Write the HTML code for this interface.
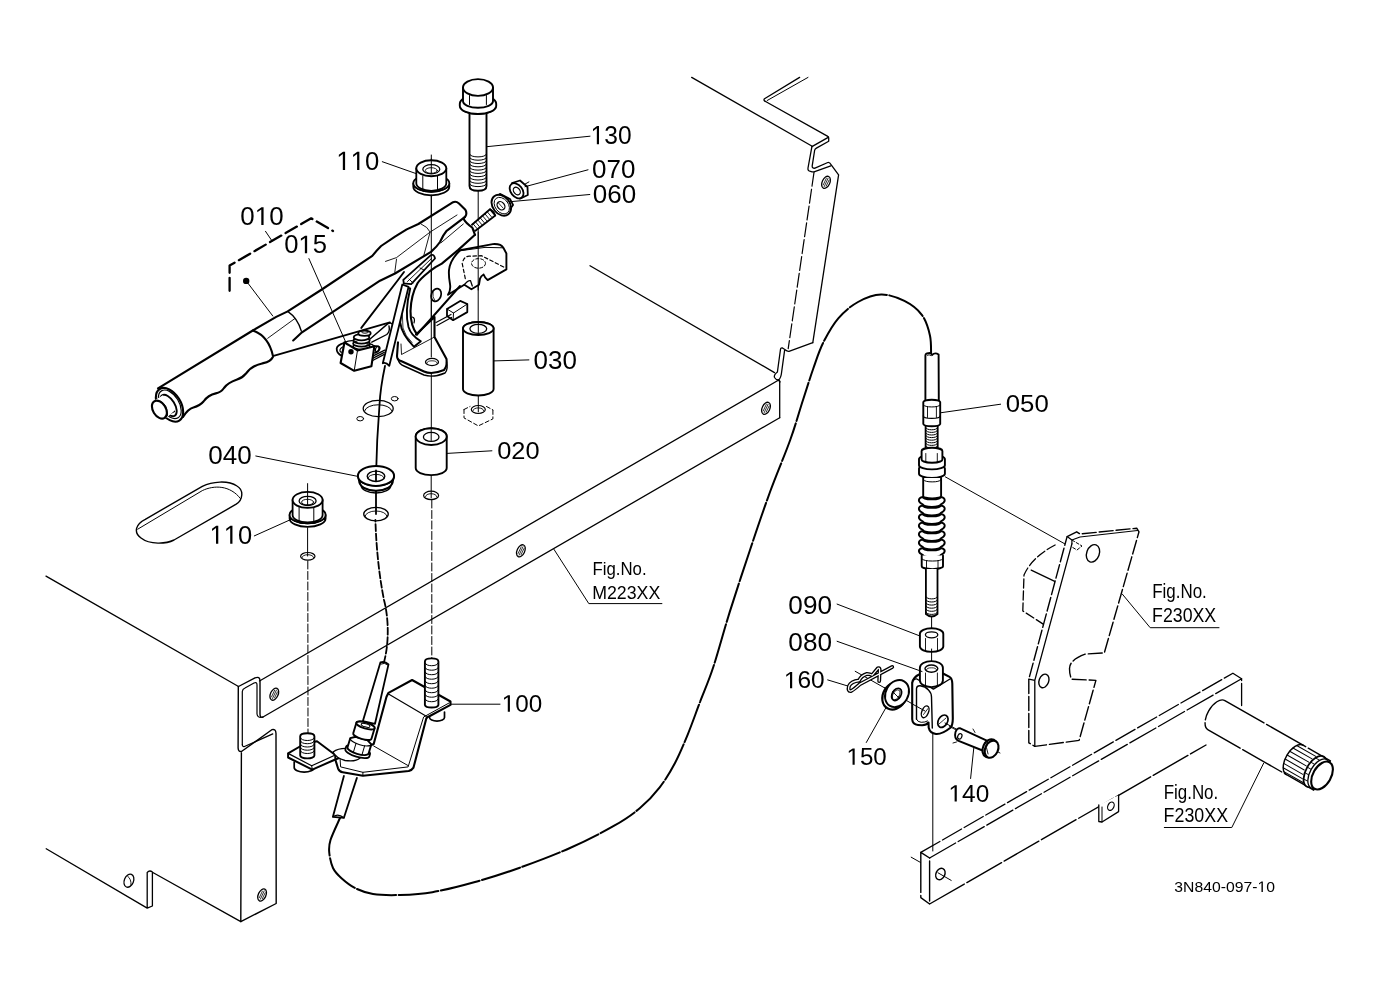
<!DOCTYPE html>
<html><head><meta charset="utf-8"><style>
html,body{margin:0;padding:0;background:#fff;width:1379px;height:1001px;overflow:hidden}
svg{display:block;will-change:transform}
text{font-family:"Liberation Sans",sans-serif;fill:#000;stroke:none}
</style></head><body>
<svg width="1379" height="1001" viewBox="0 0 1379 1001">
<g fill="none" stroke="#000" stroke-linecap="round" stroke-linejoin="round">
<path d="M46,576.1 L238.5,686.5" stroke-width="1.3"/>
<path d="M590,265.8 L774.5,372.6" stroke-width="1.3"/>
<path d="M691.7,77.4 L812.2,146.3" stroke-width="1.3"/>
<path d="M238.3,686.5 L238.1,747.9 Q238.3,752.5 241.8,751.3 L271.8,729.7 Q275.8,728.5 276,733.5 L276.2,903.5 L240.8,921.6 L241.4,752.9" stroke-width="1.4"/>
<path d="M238.5,686.5 L255,677.8 Q260,676 260,681 L260,714 Q260,718 263,717" stroke-width="1.4"/>
<path d="M242.3,745 L242.3,691.5 Q242.5,689 245,688 L254,683 Q257,681.5 257,685 L257,714 Q257.5,717.5 261,717.5" stroke-width="1.2"/>
<path d="M242.4,744.5 Q242.5,747.3 244.5,746.5 L272.8,733.9" stroke-width="1.2"/>
<path d="M259.5,681 L778.7,380" stroke-width="1.3"/>
<path d="M263,717 L779.7,417.7" stroke-width="1.3"/>
<path d="M778.7,380 L779.7,381 L779.7,417.7" stroke-width="1.3"/>
<path d="M46.2,848.8 L147.2,908.1 L147.2,872.5 Q149.5,869.8 152.4,872 L152.4,906 L147.2,908.1 M152.4,872.2 L240.8,921.6" stroke-width="1.3"/>
<path d="M799.6,77.4 L764.5,98.7 Q763,100.5 766,101.7 L827.8,136.4 Q828.7,136.8 828.7,138 L828.7,141.2 L816.4,148.1 Q814.8,149 814.6,150.5 L812.2,165.8 Q812,168.5 815,168.2 L827.8,162.5 Q829.5,162 831.4,165.2 L838.6,174.8 L812.8,342.6" stroke-width="1.3"/>
<path d="M808,77.4 L767.2,100.5" stroke-width="1"/>
<path d="M811.9,146.6 L808,168 Q807.5,171 810.5,171.3 Q812.5,172 814,171.8 L830.8,165.8" stroke-width="1.3"/>
<path d="M811.9,146.6 L827.8,137.6" stroke-width="1.3"/>
<path d="M814,172.4 L788.2,348.6" stroke-width="1.2" stroke-dasharray="14,3"/>
<path d="M812.8,342.6 L789,351.3 Q787,351.5 785.2,349.8 L782.5,348 Q780.5,347.5 780.4,350 L777.4,372 Q773.5,375 774.5,377.5 Q776,380 778.5,380 Q781,378 781.5,373 L784.6,350.4" stroke-width="1.3"/>
<path d="M778.5,380 L780,382" stroke-width="1.3"/>
<circle cx="246.2" cy="280.9" r="3.2" fill="#000" stroke="none"/>
<path d="M229.6,290.8 L229.6,265.5 L311.2,218.3 L333,231" stroke-width="2.3" stroke-dasharray="13,5"/>
<path d="M383.8,663 C390,640 388,615 384,600 C378,570 376,540 375.4,520" stroke-width="1.8" stroke-dasharray="7,2.5"/>
<path d="M385,366 C382,380 380,395 379.5,405 C377.5,430 376.5,450 376,476" stroke-width="1.8"/>
<path d="M376,490 L376,514" stroke-width="1.8"/>
<path d="M340,818 C338.4,821.7 332.3,834.3 330.5,840 C328.7,845.7 328.8,847.3 329.2,852 C329.6,856.7 330.9,863.6 333,868 C335.1,872.4 337.8,874.9 341.5,878.2 C345.2,881.5 349.8,885.4 355,888 C360.2,890.6 365.5,892.8 373,894 C380.5,895.2 390.1,895.3 400,895 C409.9,894.7 419.9,894.4 432.4,892.2 C444.9,890 460.4,886.1 475,882 C489.6,877.9 504,873.4 519.8,867.7 C535.6,862 554.3,855 570,848 C585.7,841 602.5,832.4 614.2,825.7 C625.9,819 632.4,814.4 640,808 C647.6,801.6 653.9,794.8 659.7,787.3 C665.5,779.8 670.4,771.8 675,763 C679.6,754.2 683.4,745 687.6,734.8 C691.8,724.6 695.7,713.3 700,702 C704.3,690.7 708.4,681.9 713.3,667 C718.2,652.1 723.5,631.9 729.6,612.4 C735.7,592.9 743.3,570.1 750,550 C756.7,529.9 763.3,510.3 770,492 C776.7,473.7 784.7,455.3 790.2,440 C795.7,424.7 799.1,411.9 803,400 C806.9,388.1 809.9,378.1 813.3,368.5 C816.7,358.9 819,351.1 823.2,342.7 C827.4,334.3 832.5,325.1 838.3,318.3 C844.1,311.5 850.9,306 858,302 C865.1,298 873.5,294.7 881.2,294.5 C888.9,294.3 897.6,297.5 904.4,300.9 C911.2,304.3 917.5,309 921.8,314.8 C926.1,320.6 928.5,328.9 930,335.7 C931.5,342.5 930.9,352.1 931.1,355.4" stroke-width="2" stroke-dasharray="40,2.5"/>
<ellipse cx="274.3" cy="694.2" rx="3.8" ry="6.4" stroke-width="1.3" transform="rotate(25 274.3 694.2)"/>
<path d="M271.5,696.9 L274.6,690.3" stroke-width="0.8"/>
<path d="M272.5,698.5 L276.4,690.1" stroke-width="0.8"/>
<path d="M274.5,698 L277.4,691.9" stroke-width="0.8"/>
<ellipse cx="520.9" cy="550.8" rx="3.8" ry="6.4" stroke-width="1.3" transform="rotate(25 520.9 550.8)"/>
<path d="M518.1,553.5 L521.2,546.9" stroke-width="0.8"/>
<path d="M519.1,555.1 L523,546.7" stroke-width="0.8"/>
<path d="M521.1,554.6 L524,548.5" stroke-width="0.8"/>
<ellipse cx="766" cy="408.3" rx="3.8" ry="6.4" stroke-width="1.3" transform="rotate(25 766 408.3)"/>
<path d="M763.2,411 L766.3,404.4" stroke-width="0.8"/>
<path d="M764.2,412.6 L768.1,404.2" stroke-width="0.8"/>
<path d="M766.2,412.1 L769.1,406" stroke-width="0.8"/>
<ellipse cx="826" cy="182.3" rx="3.8" ry="6.4" stroke-width="1.3" transform="rotate(25 826 182.3)"/>
<path d="M823.2,185 L826.3,178.4" stroke-width="0.8"/>
<path d="M824.2,186.6 L828.1,178.2" stroke-width="0.8"/>
<path d="M826.2,186.1 L829.1,180" stroke-width="0.8"/>
<ellipse cx="262.1" cy="895" rx="3.8" ry="6.4" stroke-width="1.3" transform="rotate(25 262.1 895)"/>
<path d="M259.3,897.7 L262.4,891.1" stroke-width="0.8"/>
<path d="M260.3,899.3 L264.2,890.9" stroke-width="0.8"/>
<path d="M262.3,898.8 L265.2,892.7" stroke-width="0.8"/>
<ellipse cx="128.9" cy="880.7" rx="4.6" ry="6.8" stroke-width="1.3" transform="rotate(22 128.9 880.7)"/>
<path d="M127.5,876 Q131.5,879 131,885" stroke-width="0.9"/>
<path d="M145.3,519.3 L202.3,486.3 C212,481.5 228,480 237,486 C244,490 243,500 236.2,504.2 L174,540 C166,544 150,545 141,538 C133,532 136,524 145.3,519.3 Z" stroke-width="1.4"/>
<path d="M137.7,529.2 L202.3,490.6 C214,485 230,485 240.5,498.6" stroke-width="1"/>
<path d="M431.3,155 L431.3,436" stroke-width="1"/>
<path d="M478.2,191 L478.2,328" stroke-width="1"/>
<path d="M478.3,389 L478.3,412" stroke-width="1"/>
<path d="M431.2,468 L431.2,498" stroke-width="1"/>
<path d="M431.8,500 L431.8,658" stroke-width="1" stroke-dasharray="8,2.5"/>
<path d="M307.6,483.6 L307.6,500" stroke-width="1"/>
<path d="M307.6,527.8 L307.6,556" stroke-width="1"/>
<path d="M307.8,561 L308,733" stroke-width="1" stroke-dasharray="8,2.5"/>
<ellipse cx="378.2" cy="408.5" rx="15" ry="8.2" stroke-width="1.3"/>
<path d="M364.8,410.5 A13.5,6.5 0 0 1 391.6,410.5" stroke-width="1"/>
<ellipse cx="394.7" cy="398.7" rx="3.4" ry="2.2" stroke-width="1"/>
<ellipse cx="360.2" cy="418.7" rx="3.4" ry="2.2" stroke-width="1"/>
<ellipse cx="376" cy="514.1" rx="12.3" ry="6.7" stroke-width="1.3"/>
<path d="M365,516.5 A11,5.5 0 0 1 387,516.5" stroke-width="0.9"/>
<ellipse cx="307.8" cy="556.3" rx="7.2" ry="3.8" stroke-width="1.2"/>
<path d="M302,557.5 A5.8,2.8 0 0 1 313.6,557.5" stroke-width="0.9"/>
<ellipse cx="431.1" cy="495.4" rx="7.5" ry="4.2" stroke-width="1.2"/>
<path d="M425.5,496.5 A5.6,2.8 0 0 1 436.7,496.5" stroke-width="0.9"/>
<ellipse cx="478.3" cy="409.5" rx="7" ry="4" stroke-width="1.2"/>
<path d="M473,410.5 A5.3,2.6 0 0 1 483.6,410.5" stroke-width="0.9"/>
<path d="M464,409.5 L464,417.9 L478.3,425.9 L492.9,418.9 L492.9,409.9 M464,409.5 L470,406.5 M486.5,406.5 L492.9,409.9" stroke-width="1" stroke-dasharray="4,2.5"/>
<path d="M413.3,183.3 A18,8.5 0 0 0 449.3,183.3 L449.3,186.8 A18,8.5 0 0 1 413.3,186.8 Z" stroke-width="1.8" fill="#fff"/>
<path d="M413.3,183.3 A18,8.5 0 0 0 449.3,183.3 A18,8.5 0 0 0 413.3,183.3 Z" stroke-width="1.8" fill="#fff"/>
<path d="M416.3,168.3 L416.3,183.3 A15,7.5 0 0 0 446.3,183.3 L446.3,168.3" stroke-width="1.8" fill="#fff"/>
<path d="M422.8,175.8 L422.8,189.8" stroke-width="1"/>
<path d="M437.5,176.1 L437.5,189.8" stroke-width="1"/>
<ellipse cx="431.3" cy="168.3" rx="15" ry="8" stroke-width="1.9" fill="#fff"/>
<ellipse cx="431.3" cy="169.3" rx="8.5" ry="4.6" stroke-width="1.3"/>
<ellipse cx="431.3" cy="170.5" rx="6" ry="2.8" stroke-width="0.9"/>
<path d="M289.6,514.9 A18,8.5 0 0 0 325.6,514.9 L325.6,518.4 A18,8.5 0 0 1 289.6,518.4 Z" stroke-width="1.8" fill="#fff"/>
<path d="M289.6,514.9 A18,8.5 0 0 0 325.6,514.9 A18,8.5 0 0 0 289.6,514.9 Z" stroke-width="1.8" fill="#fff"/>
<path d="M292.6,499.9 L292.6,514.9 A15,7.5 0 0 0 322.6,514.9 L322.6,499.9" stroke-width="1.8" fill="#fff"/>
<path d="M299.1,507.4 L299.1,521.4" stroke-width="1"/>
<path d="M313.8,507.7 L313.8,521.4" stroke-width="1"/>
<ellipse cx="307.6" cy="499.9" rx="15" ry="8" stroke-width="1.9" fill="#fff"/>
<ellipse cx="307.6" cy="500.9" rx="8.5" ry="4.6" stroke-width="1.3"/>
<ellipse cx="307.6" cy="502.1" rx="6" ry="2.8" stroke-width="0.9"/>
<path d="M358,476 A18.1,10 0 0 0 394.2,476 L393,481 A17,9.5 0 0 1 359,481 Z" stroke-width="1.7" fill="#fff"/>
<path d="M360,482 A16,9 0 0 0 392,482 M361,485 A15,8 0 0 0 391,485" stroke-width="1.4"/>
<ellipse cx="376" cy="475.9" rx="18.1" ry="10" stroke-width="2" fill="#fff"/>
<ellipse cx="376" cy="476.3" rx="8.8" ry="5.2" stroke-width="1.4"/>
<path d="M368,478 A8,3.6 0 0 1 384,478" stroke-width="0.9"/>
<path d="M463,328.5 L463,389 A15.3,6.5 0 0 0 493.6,389 L493.6,328.5 A15.3,6.5 0 0 0 463,328.5 Z" stroke-width="1.9" fill="#fff"/>
<ellipse cx="478.3" cy="328.5" rx="15.3" ry="6.5" stroke-width="1.9" fill="#fff"/>
<ellipse cx="478.3" cy="328.8" rx="8.4" ry="4.5" stroke-width="1.3"/>
<path d="M415.7,436.6 L415.7,468.1 A15.5,7 0 0 0 446.7,468.1 L446.7,436.6 A15.5,8.4 0 0 0 415.7,436.6 Z" stroke-width="1.9" fill="#fff"/>
<ellipse cx="431.2" cy="436.6" rx="15.5" ry="8.4" stroke-width="1.9" fill="#fff"/>
<ellipse cx="431.2" cy="436.9" rx="7.8" ry="4.5" stroke-width="1.3"/>
<path d="M469.5,111.6 L469.5,186 Q469.5,190.8 478,190.8 Q486.5,190.8 486.5,186 L486.5,111.6" stroke-width="1.9" fill="#fff"/>
<path d="M469.8,154.5 A8.2,2.4 0 0 0 486.2,154.5" stroke-width="1"/>
<path d="M469.8,157.8 A8.2,2.4 0 0 0 486.2,157.8" stroke-width="1"/>
<path d="M469.8,161.1 A8.2,2.4 0 0 0 486.2,161.1" stroke-width="1"/>
<path d="M469.8,164.4 A8.2,2.4 0 0 0 486.2,164.4" stroke-width="1"/>
<path d="M469.8,167.7 A8.2,2.4 0 0 0 486.2,167.7" stroke-width="1"/>
<path d="M469.8,171 A8.2,2.4 0 0 0 486.2,171" stroke-width="1"/>
<path d="M469.8,174.3 A8.2,2.4 0 0 0 486.2,174.3" stroke-width="1"/>
<path d="M469.8,177.6 A8.2,2.4 0 0 0 486.2,177.6" stroke-width="1"/>
<path d="M469.8,180.9 A8.2,2.4 0 0 0 486.2,180.9" stroke-width="1"/>
<path d="M469.8,184.2 A8.2,2.4 0 0 0 486.2,184.2" stroke-width="1"/>
<path d="M459.8,103.8 L459.8,106 A18.2,8 0 0 0 496.2,106 L496.2,103.8 A18.2,8.8 0 0 0 459.8,103.8 Z" stroke-width="1.9" fill="#fff"/>
<path d="M460.5,107.5 A17.5,7 0 0 0 495.5,107.5" stroke-width="1"/>
<path d="M463,87.5 L463,101 A15,6.8 0 0 0 493,101 L493,87.5" stroke-width="1.9" fill="#fff"/>
<path d="M469.5,95.5 L469.5,104.5" stroke-width="1"/>
<path d="M486.4,95.5 L486.4,104.5" stroke-width="1"/>
<ellipse cx="478" cy="87.5" rx="15" ry="8.4" stroke-width="1.9" fill="#fff"/>
<path d="M470.5,226 L490,209.2 L495.3,215.5 L475.4,230.8" stroke-width="1.8" fill="#fff"/>
<path d="M490,209.2 Q494,211 495.3,215.5" stroke-width="1.4"/>
<path d="M470.3,225.4 L474.7,230.6" stroke-width="0.9"/>
<path d="M472.7,223.4 L477.1,228.6" stroke-width="0.9"/>
<path d="M475.1,221.4 L479.4,226.6" stroke-width="0.9"/>
<path d="M477.4,219.4 L481.8,224.6" stroke-width="0.9"/>
<path d="M479.8,217.4 L484.2,222.6" stroke-width="0.9"/>
<path d="M482.2,215.4 L486.6,220.6" stroke-width="0.9"/>
<path d="M484.6,213.4 L488.9,218.6" stroke-width="0.9"/>
<path d="M486.9,211.4 L491.3,216.6" stroke-width="0.9"/>
<path d="M495.5,210.5 L498,208.3" stroke-width="1"/>
<path d="M499.9,193.8 L510,199 L513.1,205 L508,212 L500,210 Z" stroke-width="1.7" fill="#fff"/>
<ellipse cx="501.3" cy="205.2" rx="8.6" ry="11.5" stroke-width="1.9" transform="rotate(-38 501.3 205.2)" fill="#fff"/>
<ellipse cx="501.8" cy="205.6" rx="6.6" ry="9.2" stroke-width="0.9" transform="rotate(-38 501.8 205.6)"/>
<ellipse cx="501" cy="205.8" rx="3.5" ry="4.5" stroke-width="1.3" transform="rotate(-38 501 205.8)"/>
<path d="M498.5,203 L503,208" stroke-width="0.8"/>
<path d="M512,183 L520,180.5 L527.5,187 L527.8,195 L520,198.7 L512,193 Z" stroke-width="1.8" fill="#fff"/>
<ellipse cx="516.6" cy="190.8" rx="5.8" ry="8.5" stroke-width="1.8" transform="rotate(-38 516.6 190.8)" fill="#fff"/>
<ellipse cx="516.8" cy="191" rx="3" ry="4.2" stroke-width="1.2" transform="rotate(-38 516.8 191)"/>
<path d="M524.7,184.3 L528.9,181.9" stroke-width="1"/>
<path d="M460.2,250.2 L492.7,244.1 Q501,243.5 503.5,248 L506.4,253.5 L506.4,269.4 L487.6,280.1 Q485,278 483.6,274.5 Q481,276 480,278.6 L479,284.7 L471.4,289.2 L464.3,284.7 L448,294.8 Q451,290 450,284 Q448.5,276 449,270 Q450,260 460.2,250.2 Z" stroke-width="1.9" fill="#fff"/>
<path d="M459.7,250.8 L485,247.4 L503,247.8" stroke-width="1"/>
<path d="M465.3,278.6 L462.2,263.4 Q464,256 469.3,256.2 L481.5,255.7 L504.4,267.4" stroke-width="1.2" stroke-dasharray="3.5,2.5"/>
<ellipse cx="478.5" cy="263.4" rx="7" ry="4.8" stroke-width="1" stroke-dasharray="3,2"/>
<path d="M464.3,284.7 Q468,280 470.5,280.6 L472.3,286" stroke-width="1.3"/>
<path d="M447,309 L460.2,300.9 L467.3,304 L467.3,312.1 L453.1,320.2 L447,316.1 Z" stroke-width="1.8" fill="#fff"/>
<path d="M447,309 L453.5,313 L467.3,304 M453.5,313 L453.1,320.2" stroke-width="1"/>
<path d="M436,322.5 L451,314.5 M437,325.5 L451.5,317.5" stroke-width="1.2"/>
<path d="M398,342 L397,356 Q397,360 401,361 L424,371.5 Q432,375 444,370 Q447.5,366 446.5,359 L434.5,337 L434.5,317 L416,334.5" stroke-width="2.1" fill="#fff"/>
<path d="M401,344 L401.5,354.5 L434.5,337" stroke-width="0.9"/>
<path d="M398,359 Q399,364 404,366 L424,375 Q433,378 445,373 Q448.5,369 446.5,362" stroke-width="1.4"/>
<ellipse cx="432" cy="362" rx="6.5" ry="3.6" stroke-width="1.3"/>
<path d="M427,363 A5,2.2 0 0 1 437,363" stroke-width="0.8"/>
<path d="M158,388.3 L252.8,330.5 L287.7,311.4 L372.3,255.9 L395,236.6 L453.1,202.2 L465.1,209.4 L475,234.8 L429.2,271.7 L412,300 L410.5,320 L398,342 L389.9,322.4 L273.6,355.8 L184,414 Z" stroke-width="0" fill="#fff"/>
<path d="M158,388.3 L252.8,330.5 L287.7,311.4 L372.3,255.9 L395,236.6 L453.1,202.2 L465.1,209.4 L475,234.8 L429.2,271.7 L412,300 L410.5,320 L398,342 L389.9,322.4 L273.6,355.8 L184,414 Z" fill="#fff" stroke="none"/>
<path d="M158,388.3 L252.8,330.5 L276.2,316.9 L287.7,311.4 L321.8,289.5 L372.3,255.9 Q377,250 381.1,246 L395,236.6 L406.7,229.4 L418.4,224 L453.1,202.2 Q456,200.8 459,203.5 L465.1,209.4 Q467.5,213 465.3,216.5 L463.3,218.6 Q466,223.5 472.3,227.6 L475,234.8" stroke-width="2.1"/>
<path d="M252.8,330.5 Q268.5,336 272.9,355.8" stroke-width="2.1"/>
<path d="M183,417 C186,412 189,408.5 193.4,407.4 C197.5,406.3 201,404.5 203.5,401.5 C206,398 208.5,395 215.8,393.4 C219.5,392.6 222,391 224,388 C227,384 230,382 236.5,379.8 C240,378.8 243,377 246,373.5 C249,369.5 253,365.5 262.1,363.4 C266,362.5 270.5,362 272.9,357" stroke-width="2.1"/>
<ellipse cx="169.5" cy="404.8" rx="11.2" ry="18.6" stroke-width="2.1" transform="rotate(-31.8 169.5 404.8)"/>
<ellipse cx="169.8" cy="404.3" rx="9.2" ry="15.8" stroke-width="1.2" transform="rotate(-31.8 169.8 404.3)"/>
<ellipse cx="168.5" cy="405.5" rx="6.2" ry="12" stroke-width="1.9" transform="rotate(-31.8 168.5 405.5)" fill="#fff"/>
<path d="M155.9,400.8 L163.1,395.9 M166.9,414.6 L174.1,411.3" stroke-width="1.9"/>
<path d="M152.5,401.5 L163,395.2 L174.6,410.5 L166.4,418 Z" stroke-width="0" fill="#fff"/>
<path d="M153,402 L163,395.5 L174,410.8 L166.4,417.5 Z" fill="#fff" stroke="none"/>
<ellipse cx="159.4" cy="409.6" rx="6.4" ry="9.8" stroke-width="2.1" transform="rotate(-31.8 159.4 409.6)" fill="#fff"/>
<path d="M161,401.5 Q168,405 167.5,415.5" stroke-width="0.9"/>
<path d="M287.7,311.4 Q297.5,318 301.4,331.2" stroke-width="1.3"/>
<path d="M267.7,338.3 L294.8,318.6" stroke-width="0.9"/>
<path d="M293.2,340.5 L302,332.3 L380,280.7 L395,273.5 L431,251.9 Q437,246.5 440,242 Q443,235 446.3,231.2 L465.1,216.8" stroke-width="2.1"/>
<path d="M440.9,242.9 L463.3,224" stroke-width="0.9"/>
<path d="M273.6,355.8 L389.9,322.4" stroke-width="1.9"/>
<path d="M385.5,261.4 L396.5,257.6 L430.1,232.1 L457,215" stroke-width="0.9"/>
<path d="M421.1,224 Q428,227 430.1,232.1 L423.8,255.5" stroke-width="0.9"/>
<path d="M396.5,259.2 L394.8,272.4" stroke-width="0.9"/>
<path d="M475,234.8 L458,250.1 L441.8,263.6 L435.5,267.2 L429.2,271.7 Q420,279 417.5,283.3 Q411,295 410.5,311.1 Q410.5,326 417,334.5" stroke-width="2.1"/>
<path d="M361.3,327.9 L398,280 L404,272" stroke-width="1.9"/>
<path d="M417,334.5 L460,286" stroke-width="1.9"/>
<ellipse cx="436.2" cy="295" rx="4.8" ry="6.5" stroke-width="1.7" transform="rotate(20 436.2 295)"/>
<path d="M433,292 Q432,297 435,301" stroke-width="0.8"/>
<path d="M406.2,287.5 Q399.5,303 400.3,322.9 Q401.5,334 414,346.8 L420.8,341.2 Q411,335.5 408.5,327 Q404.5,312 410.2,288.5 Z" stroke-width="1.9" fill="#fff"/>
<path d="M403.3,300 Q401.5,315 403,328 Q405,336 412,342.5" stroke-width="0.8"/>
<path d="M412.3,317 Q415.5,318 414,323" stroke-width="1.2"/>
<path d="M382.8,363.2 L402.3,284.5 L408.6,286.8 L389.3,365.8 Q386,362 382.8,363.2 Z" stroke-width="1.8" fill="#fff"/>
<path d="M403.3,279.8 L430.6,255.3 Q433.5,253.8 434.6,257 L435,258.5 L411.2,284.2 L403.8,283.3 Z" stroke-width="1.8" fill="#fff"/>
<path d="M407.5,281.5 L431.5,258.5 M409,279 L413,283" stroke-width="0.9"/>
<path d="M420,268 L424,270" stroke-width="1"/>
<path d="M344.5,342.9 Q337,345 336.7,348.5 Q336.5,353.5 341.9,355.9 L350,352 Z" stroke-width="1.8" fill="#fff"/>
<path d="M343.2,346.8 Q339.5,348.5 340,351 Q340.8,353 342.5,351.8" stroke-width="1.2"/>
<path d="M374.4,346.2 Q379.5,345.5 379.8,348 Q379.5,351.5 375,352.9" stroke-width="1.8" fill="#fff"/>
<ellipse cx="377.2" cy="349" rx="1.6" ry="2.8" stroke-width="1.2" transform="rotate(20 377.2 349)"/>
<path d="M369.2,339.7 L387.3,324.1 Q390.5,321.8 392.3,324.2 M371.8,342.2 L386.8,334.5 Q390.2,331.5 389,326" stroke-width="1.4"/>
<path d="M371.8,356.6 L384.7,350.1 M372.7,360.5 L383.8,354.6 M372.2,358.6 L384.3,352.4" stroke-width="1.2"/>
<ellipse cx="361.5" cy="346.5" rx="8.4" ry="3.1" stroke-width="1.8" fill="#fff"/>
<ellipse cx="361.5" cy="343.5" rx="8.4" ry="3.1" stroke-width="1.8" fill="#fff"/>
<ellipse cx="361.5" cy="340.5" rx="8.2" ry="3.1" stroke-width="1.8" fill="#fff"/>
<ellipse cx="361.5" cy="337.2" rx="7.8" ry="3.1" stroke-width="1.8" fill="#fff"/>
<ellipse cx="364.5" cy="333.2" rx="6.2" ry="2.6" stroke-width="1.8" fill="#fff"/>
<ellipse cx="365" cy="331.8" rx="3.5" ry="1.4" stroke-width="1"/>
<path d="M340.6,363 L354.2,370.8 L371.4,366.3 L374.4,346.2 L357.5,350.4 L344.5,342.3 Z" stroke-width="2.1" fill="#fff"/>
<path d="M357.5,350.4 L354.2,370.8" stroke-width="1"/>
<path d="M344.5,342.3 Q352,339 357,342 M374.4,346.2 Q372,343.5 367,344" stroke-width="1.3"/>
<circle cx="351" cy="351.8" r="2.7" fill="#000" stroke="none"/>
<path d="M431.3,195 L431.3,357" stroke-width="1"/>
<path d="M478.2,232 L478.2,290" stroke-width="1"/>
<path d="M376,470.5 L376,481" stroke-width="1.8"/>
<path d="M431.2,428.5 L431.2,440.5" stroke-width="1"/>
<path d="M478.3,322.5 L478.3,332.5" stroke-width="1"/>
<path d="M431.3,159 L431.3,173.5" stroke-width="1"/>
<path d="M307.6,491 L307.6,505" stroke-width="1"/>
<path d="M294.2,760 L294.2,767.5 A10,4.6 0 0 0 314.2,767.5 L314.2,760 Z" fill="#fff" stroke="none"/>
<path d="M294.2,762 L294.2,767.5 A10,4.6 0 0 0 314.2,767.5 L314.2,762" stroke-width="1.7"/>
<path d="M429.5,710 L429.5,717.5 A7.5,3.6 0 0 0 444.5,717.5 L444.5,710 Z" fill="#fff" stroke="none"/>
<path d="M429.5,712 L429.5,717.5 A7.5,3.6 0 0 0 444.5,717.5 L444.5,712" stroke-width="1.7"/>
<path d="M335.3,759.5 L338,768.3 Q339.5,772 342.7,772.3 L362.9,775.7 L408.7,771 Q412,770 413.5,767.6 L426.3,718.4 Q427.5,716.5 430.3,715.7 L450.5,704.9 L450.5,701.5 L412.1,680 L388.5,692.8 L386.5,696.8 L373.7,744 Z" stroke-width="2.1" fill="#fff"/>
<path d="M340,757.5 L340.6,766.9 L362.9,772.3 L408.1,766.9 L423.6,717 L449.2,702.9" stroke-width="1"/>
<path d="M388.5,694.1 L426.3,716.3" stroke-width="1.2"/>
<path d="M373.7,746 L408.1,765.6" stroke-width="1"/>
<path d="M362.9,772.3 L362.9,775.7" stroke-width="1"/>
<path d="M288.1,753.4 L288.1,757.5 L312.3,769.6 L335.3,759.5 L335.3,755 L317,741.3 L304.2,744 Z" stroke-width="2" fill="#fff"/>
<path d="M288.1,753.4 L311.7,765.8 L335.3,755" stroke-width="1.2"/>
<path d="M311.7,765.8 L312.3,769.6" stroke-width="1"/>
<path d="M333,752 Q340,747 352,749 Q362,752 360,758 Q356,762 345,760.5 Q336,758 333,752 Z" stroke-width="1.3" fill="#fff"/>
<path d="M300.2,736.2 L300.2,755.4 A7.1,3 0 0 0 314.4,755.4 L314.4,736.2 Q314.4,733.2 307.3,733.2 Q300.2,733.2 300.2,736.2 Z" stroke-width="1.9" fill="#fff"/>
<path d="M300.7,738.2 A6.6,2.3 0 0 0 313.9,738.2" stroke-width="1"/>
<path d="M300.7,741.4 A6.6,2.3 0 0 0 313.9,741.4" stroke-width="1"/>
<path d="M300.7,744.7 A6.6,2.3 0 0 0 313.9,744.7" stroke-width="1"/>
<path d="M300.7,747.9 A6.6,2.3 0 0 0 313.9,747.9" stroke-width="1"/>
<path d="M300.7,751.2 A6.6,2.3 0 0 0 313.9,751.2" stroke-width="1"/>
<path d="M424.9,661.4 L424.9,704.9 A6.8,3 0 0 0 438.4,704.9 L438.4,661.4 Q438.4,658.4 431.6,658.4 Q424.9,658.4 424.9,661.4 Z" stroke-width="1.9" fill="#fff"/>
<path d="M425.4,663.4 A6.2,2.3 0 0 0 437.9,663.4" stroke-width="1"/>
<path d="M425.4,667.9 A6.2,2.3 0 0 0 437.9,667.9" stroke-width="1"/>
<path d="M425.4,672.4 A6.2,2.3 0 0 0 437.9,672.4" stroke-width="1"/>
<path d="M425.4,676.9 A6.2,2.3 0 0 0 437.9,676.9" stroke-width="1"/>
<path d="M425.4,681.4 A6.2,2.3 0 0 0 437.9,681.4" stroke-width="1"/>
<path d="M425.4,685.9 A6.2,2.3 0 0 0 437.9,685.9" stroke-width="1"/>
<path d="M425.4,690.4 A6.2,2.3 0 0 0 437.9,690.4" stroke-width="1"/>
<path d="M425.4,694.9 A6.2,2.3 0 0 0 437.9,694.9" stroke-width="1"/>
<path d="M425.4,699.4 A6.2,2.3 0 0 0 437.9,699.4" stroke-width="1"/>
<path d="M380.4,662.4 L362.9,721.1 L375,723.8 L388.5,664.4 Q385,661 380.4,662.4 Z" stroke-width="1.8" fill="#fff"/>
<path d="M381,664 Q384.5,662 388,665" stroke-width="1"/>
<g transform="translate(365.5 725.5) rotate(16.6)">
<path d="M-12.5,26 L-12.5,28.5 A12.5,4 0 0 0 12.5,28.5 L12.5,26 A12.5,4 0 0 0 -12.5,26 Z" stroke-width="1.8" fill="#fff"/>
<path d="M-11,16.5 L-11,26 A11,3.6 0 0 0 11,26 L11,16.5 L6,13.5 L-6,13.5 Z" stroke-width="1.9" fill="#fff"/>
<path d="M-11,16.5 A11,3.6 0 0 0 11,16.5" stroke-width="1.2"/>
<path d="M-4,19.8 L-4,29.4" stroke-width="1"/>
<path d="M5,19.6 L5,29.2" stroke-width="1"/>
<path d="M-6,13.5 L-6,9.5 A6,2 0 0 1 6,9.5 L6,13.5" stroke-width="1.4" fill="#fff"/>
<path d="M-9.5,0 L-9.5,11 A9.5,3 0 0 0 9.5,11 L9.5,0 A9.5,3 0 0 0 -9.5,0 Z" stroke-width="1.9" fill="#fff"/>
<ellipse cx="0" cy="0" rx="9.5" ry="3" stroke-width="1.9" fill="#fff"/>
<ellipse cx="0" cy="-0.2" rx="4.5" ry="1.6" stroke-width="1"/>
</g>
<path d="M343.9,775.9 L332.9,816.8 L343.9,817.8 L356.9,777.9" stroke-width="1.8" fill="#fff"/>
<path d="M333,816.8 Q338,813 344,817.8" stroke-width="1.2"/>
<path d="M925.4,400.5 L925.4,355.5 Q925.5,353 928.5,353.2 Q931,352.5 932,355 Q935,352 938.6,354.5 L938.8,400.5" stroke-width="1.9" fill="#fff"/>
<path d="M927.3,355.2 Q929,354 931,355.5" stroke-width="0.9"/>
<path d="M923.3,402 L923.3,424 A8.5,2.6 0 0 0 940.2,424 L940.2,402 A8.5,2.6 0 0 0 923.3,402 Z" stroke-width="1.9" fill="#fff"/>
<path d="M923.3,416 A8.45,2.4 0 0 0 940.2,416" stroke-width="1.3"/>
<path d="M923.5,405 A8.4,2.4 0 0 0 940,405" stroke-width="1"/>
<path d="M927.5,407 L927.5,417.5" stroke-width="0.9"/>
<path d="M936.4,407 L936.4,417.5" stroke-width="0.9"/>
<path d="M925.6,426 L925.6,448 M937.7,426 L937.7,448" stroke-width="1.8"/>
<path d="M926,428 A5.65,1.8 0 0 0 937.3,428" stroke-width="1"/>
<path d="M926,430.6 A5.65,1.8 0 0 0 937.3,430.6" stroke-width="1"/>
<path d="M926,433.2 A5.65,1.8 0 0 0 937.3,433.2" stroke-width="1"/>
<path d="M926,435.8 A5.65,1.8 0 0 0 937.3,435.8" stroke-width="1"/>
<path d="M926,438.4 A5.65,1.8 0 0 0 937.3,438.4" stroke-width="1"/>
<path d="M926,441 A5.65,1.8 0 0 0 937.3,441" stroke-width="1"/>
<path d="M926,443.6 A5.65,1.8 0 0 0 937.3,443.6" stroke-width="1"/>
<path d="M926,446.2 A5.65,1.8 0 0 0 937.3,446.2" stroke-width="1"/>
<path d="M919,468.5 L919,473.8 A12.95,4.2 0 0 0 944.9,473.8 L944.9,468.5 A12.95,4.2 0 0 0 919,468.5 Z" stroke-width="1.9" fill="#fff"/>
<path d="M919,459 L919,465.2 A12.95,4.2 0 0 0 944.9,465.2 L944.9,459 A12.95,4.2 0 0 0 919,459 Z" stroke-width="1.9" fill="#fff"/>
<path d="M921.6,451 L921.6,459.5 A10.4,3.2 0 0 0 942.4,459.5 L942.4,451 A10.4,3.2 0 0 0 921.6,451 Z" stroke-width="1.9" fill="#fff"/>
<path d="M925.8,453.5 L925.8,462" stroke-width="0.9"/>
<path d="M937.3,453.5 L937.3,462" stroke-width="0.9"/>
<path d="M923.2,478 L923.2,496 A8.9,2.5 0 0 0 941.1,496 L941.1,478" stroke-width="1.9" fill="#fff"/>
<path d="M923.6,480 A8.75,2.4 0 0 0 940.7,480" stroke-width="1"/>
<path d="M923,497 C917.5,498 917.5,502 923,504.5 A8.8,2.4 0 0 0 940.6,504.5 C946.1,502 946.1,498 940.6,497 A8.8,2.4 0 0 1 923,497 Z" stroke-width="1.9" fill="#fff"/>
<path d="M923,505.5 C917.5,506.5 917.5,510.5 923,513 A8.8,2.4 0 0 0 940.6,513 C946.1,510.5 946.1,506.5 940.6,505.5 A8.8,2.4 0 0 1 923,505.5 Z" stroke-width="1.9" fill="#fff"/>
<path d="M923,514 C917.5,515 917.5,519 923,521.5 A8.8,2.4 0 0 0 940.6,521.5 C946.1,519 946.1,515 940.6,514 A8.8,2.4 0 0 1 923,514 Z" stroke-width="1.9" fill="#fff"/>
<path d="M923,522.5 C917.5,523.5 917.5,527.5 923,530 A8.8,2.4 0 0 0 940.6,530 C946.1,527.5 946.1,523.5 940.6,522.5 A8.8,2.4 0 0 1 923,522.5 Z" stroke-width="1.9" fill="#fff"/>
<path d="M923,531 C917.5,532 917.5,536 923,538.5 A8.8,2.4 0 0 0 940.6,538.5 C946.1,536 946.1,532 940.6,531 A8.8,2.4 0 0 1 923,531 Z" stroke-width="1.9" fill="#fff"/>
<path d="M923,539.5 C917.5,540.5 917.5,544.5 923,547 A8.8,2.4 0 0 0 940.6,547 C946.1,544.5 946.1,540.5 940.6,539.5 A8.8,2.4 0 0 1 923,539.5 Z" stroke-width="1.9" fill="#fff"/>
<path d="M923,548 C917.5,549 917.5,552.5 923,555 A8.8,2.4 0 0 0 940.6,555 C946.1,552.5 946.1,549 940.6,548 A8.8,2.4 0 0 1 923,548 Z" stroke-width="1.9" fill="#fff"/>
<path d="M921.7,555.5 L921.7,566.3 A10.6,2.8 0 0 0 943,566.3 L943,555.5" stroke-width="1.9" fill="#fff"/>
<path d="M922,559 A10.6,2.6 0 0 0 942.7,559" stroke-width="1"/>
<path d="M926.5,561 L926.5,568.5" stroke-width="0.9"/>
<path d="M938,561 L938,568.5" stroke-width="0.9"/>
<path d="M925.9,569 L925.9,614 Q931.7,619 937.5,614 L937.5,569" stroke-width="1.8" fill="#fff"/>
<path d="M926.2,597 A5.5,1.9 0 0 0 937.2,597" stroke-width="1"/>
<path d="M926.2,600.1 A5.5,1.9 0 0 0 937.2,600.1" stroke-width="1"/>
<path d="M926.2,603.2 A5.5,1.9 0 0 0 937.2,603.2" stroke-width="1"/>
<path d="M926.2,606.3 A5.5,1.9 0 0 0 937.2,606.3" stroke-width="1"/>
<path d="M926.2,609.4 A5.5,1.9 0 0 0 937.2,609.4" stroke-width="1"/>
<path d="M926.2,612.5 A5.5,1.9 0 0 0 937.2,612.5" stroke-width="1"/>
<path d="M931.6,617 L931.6,634" stroke-width="1"/>
<path d="M919.9,633.7 L919.9,646.5 A11.7,5.4 0 0 0 943.3,646.5 L943.3,633.7 A11.7,5.4 0 0 0 919.9,633.7 Z" stroke-width="1.9" fill="#fff"/>
<ellipse cx="931.6" cy="634.8" rx="6.2" ry="3" stroke-width="1.3"/>
<path d="M925.5,638.5 L925.5,651" stroke-width="0.9"/>
<path d="M937.5,638.5 L937.5,651" stroke-width="0.9"/>
<path d="M931.6,649 L931.6,669" stroke-width="1"/>
<path d="M912.2,683 L912.2,719.3 Q912.5,724.5 918,725 L922.1,725.3 Q926.5,725 928.5,722.5 L928.7,727.8 Q930,733.4 936,734 Q942,734.5 950.4,727.8 Q952.8,725 952.8,718.4 L952.3,683.5 Q952,678 949.5,676.9 L943,673.5 L921,673.5 Q913,677 912.2,683 Z" stroke-width="2.1" fill="#fff"/>
<path d="M912.2,683 Q913,679 916.5,678.8 L933.4,689.1 L950.4,678.8" stroke-width="1.3"/>
<path d="M916.5,719.3 L916.5,688.5 Q917,685.5 920.2,685.8 Q925.5,686.5 928.5,690 Q931.5,693 931.5,697 L932.3,728" stroke-width="1.4"/>
<path d="M916.5,719.3 Q917.5,722 921.2,722.3 Q925,722.4 927.5,721" stroke-width="1"/>
<path d="M919.9,667.7 L919.9,680.5 A11.5,6.6 0 0 0 942.9,680.5 L942.9,667.7 A11.5,6.6 0 0 0 919.9,667.7 Z" stroke-width="1.9" fill="#fff"/>
<ellipse cx="931.4" cy="668.6" rx="6.4" ry="3.6" stroke-width="1.4"/>
<path d="M925.5,673 L925.5,685.5" stroke-width="0.9"/>
<path d="M937.4,673 L937.4,685.5" stroke-width="0.9"/>
<path d="M926.5,669.8 A5,2 0 0 1 936.5,669.8" stroke-width="0.8"/>
<ellipse cx="925.2" cy="711.8" rx="3.3" ry="6.2" stroke-width="1.4" transform="rotate(22 925.2 711.8)"/>
<path d="M923.5,714.5 L928,708.5" stroke-width="0.8"/>
<ellipse cx="942.9" cy="721.2" rx="4.6" ry="6.6" stroke-width="1.7" transform="rotate(30 942.9 721.2)"/>
<path d="M939,724 L946,718" stroke-width="0.8"/>
<path d="M932.8,733.5 L932.8,851" stroke-width="1"/>
<path d="M912,703.8 L925,711" stroke-width="1"/>
<path d="M945,723 L958,730" stroke-width="1"/>
<path d="M949.5,726.5 L1000,753" stroke-width="0.9"/>
<path d="M959.8,728.1 L986.8,740.7 L985,751.5 L958,740.7 Q954,738 955.5,732 Q957,728 959.8,728.1 Z" stroke-width="1.9" fill="#fff"/>
<ellipse cx="989.8" cy="748.2" rx="6.8" ry="9.4" stroke-width="2.1" transform="rotate(25 989.8 748.2)" fill="#fff"/>
<ellipse cx="991.6" cy="749.2" rx="6.4" ry="9" stroke-width="2.1" transform="rotate(25 991.6 749.2)" fill="#fff"/>
<path d="M987.5,741.5 Q985,747.5 988,754" stroke-width="0.9"/>
<ellipse cx="959.8" cy="736.3" rx="2" ry="2.8" stroke-width="1.2" transform="rotate(25 959.8 736.3)"/>
<path d="M973,729 L975,732.5" stroke-width="0.9"/>
<path d="M953,743 L956.5,742" stroke-width="0.9"/>
<path d="M884.3,687.7 L912.2,703.8" stroke-width="1"/>
<ellipse cx="894.6" cy="695.8" rx="11.6" ry="14.4" stroke-width="2.1" transform="rotate(30 894.6 695.8)" fill="#fff"/>
<ellipse cx="897" cy="693.6" rx="11.2" ry="14.2" stroke-width="1.9" transform="rotate(30 897 693.6)" fill="#fff"/>
<ellipse cx="896.6" cy="694.4" rx="4.4" ry="6.6" stroke-width="1.7" transform="rotate(30 896.6 694.4)"/>
<ellipse cx="896.2" cy="694.8" rx="3.2" ry="5.4" stroke-width="0.8" transform="rotate(30 896.2 694.8)"/>
<path d="M892.5,691.5 L899.5,698.5" stroke-width="0.9"/>
<path d="M855.2,671.3 L885.3,688.3" stroke-width="1"/>
<path d="M892.2,667 L859.6,684.4 Q854,689.5 851,691 Q847.5,691.5 849,686 Q851,681.5 859.1,680.5 Q861,676 867,673.9 Q870,674 872.2,675.2 L877.9,668.3 Q880,667.5 879.6,671 L879.2,681" stroke-width="3.9"/>
<path d="M892.2,667 L859.6,684.4 Q854,689.5 851,691 Q847.5,691.5 849,686 Q851,681.5 859.1,680.5 Q861,676 867,673.9 Q870,674 872.2,675.2 L877.9,668.3 Q880,667.5 879.6,671 L879.2,681" stroke="#fff" stroke-width="1.3"/>
<path d="M1055.1,545 Q1032,557 1024,575 L1022.8,610.9 L1043.2,624.1" stroke-width="1.3" stroke-dasharray="9,3"/>
<path d="M1031.2,570.1 L1056.3,582.1" stroke-width="1.3"/>
<path d="M1067.1,536.6 L1076.7,531.8 L1080,534 L1136.7,528.2 L1139,531.8 L1104.3,652.9 L1085.1,654.1 Q1069.5,660 1069.5,668.4 Q1069.5,676 1071.9,679.2 L1095.9,680.4 L1079.1,740.4 L1034.8,746.4 L1028.8,742.8 L1028.8,679.2 Z" stroke-width="1.4" fill="#fff" stroke-dasharray="14,3"/>
<path d="M1071.9,543.8 L1034.8,680.4 L1034.8,746.4 M1028.8,679.2 L1034.8,680.4" stroke-width="1.3"/>
<path d="M1067.1,536.6 L1071.9,540 L1071.9,543.8 M1071.9,540 L1080,537 L1137.5,530.5" stroke-width="1.2"/>
<path d="M1071.9,540 L1082,546 L1077,550 L1071.9,547" stroke-width="1" stroke-dasharray="3,2"/>
<ellipse cx="1093" cy="553.4" rx="6.3" ry="9" stroke-width="1.4" transform="rotate(20 1093 553.4)"/>
<ellipse cx="1043.9" cy="680.9" rx="4.8" ry="7" stroke-width="1.4" transform="rotate(20 1043.9 680.9)"/>
<path d="M920.8,852.4 L1232.9,673.2 L1241.6,678.7 L1241.6,707.3" stroke-width="1.3" stroke-dasharray="22,3"/>
<path d="M929.6,858 L1241.6,678.7" stroke-width="1.3" stroke-dasharray="30,3"/>
<path d="M920.8,852.4 L929.6,858 M920.8,852.4 L920.8,897.6 L929.6,904 M929.6,861 L929.6,904 L1206,745" stroke-width="1.4" stroke-dasharray="40,3"/>
<path d="M911.2,857.2 L920.4,862.4" stroke-width="1"/>
<ellipse cx="940.4" cy="874" rx="4.4" ry="6" stroke-width="1.4" transform="rotate(25 940.4 874)"/>
<path d="M938,872.8 L951.2,880.4" stroke-width="1"/>
<path d="M1098.8,805 L1098.8,821.5 L1102,822 L1118.6,811.6 L1118.6,795.2" stroke-width="1.3" fill="#fff"/>
<path d="M1102,807 L1102,822" stroke-width="1"/>
<ellipse cx="1110.9" cy="806.2" rx="3" ry="4.4" stroke-width="1.2" transform="rotate(25 1110.9 806.2)"/>
<g transform="translate(1216.5 715.3) rotate(29.7)">
<path d="M0,-16.9 L121.5,-16.9 L121.5,16.9 L0,16.9 A9,16.9 0 0 1 0,-16.9 Z" stroke-width="1.4" fill="#fff" stroke-dasharray="45,3"/>
<path d="M90,-16.9 A9,16.9 0 0 0 90,16.9" stroke-width="1.4"/>
<path d="M84.6,-13.5 L106.6,-13.5" stroke-width="1"/>
<path d="M82.6,-9.5 L104.6,-9.5" stroke-width="1"/>
<path d="M81.4,-5 L103.4,-5" stroke-width="1"/>
<path d="M81,-0.5 L103,-0.5" stroke-width="1"/>
<path d="M81.3,4 L103.3,4" stroke-width="1"/>
<path d="M82.2,8.5 L104.2,8.5" stroke-width="1"/>
<path d="M83.9,12.5 L105.9,12.5" stroke-width="1"/>
<path d="M86.4,15.5 L108.4,15.5" stroke-width="1"/>
<ellipse cx="113.5" cy="0" rx="9" ry="17.2" stroke-width="1.8" fill="#fff"/>
<path d="M107.1,-12 L111.1,-12" stroke-width="0.9"/>
<path d="M105.1,-6 L109.1,-6" stroke-width="0.9"/>
<path d="M104.5,0 L108.5,0" stroke-width="0.9"/>
<path d="M105.1,6 L109.1,6" stroke-width="0.9"/>
<path d="M107.1,12 L111.1,12" stroke-width="0.9"/>
<ellipse cx="118" cy="0" rx="9" ry="16.2" stroke-width="1.3" fill="#fff"/>
<ellipse cx="121.5" cy="0" rx="9" ry="15.2" stroke-width="2.1" fill="#fff"/>
</g>
<g transform="translate(590.66 144.25) scale(0.9295 1)">
<text font-size="26.43"> 30</text>
<path d="M515,0 L515,1237 L197,1010 L197,1180 L530,1409 L696,1409 L696,0 Z" fill="#000" stroke="none" transform="translate(0.000 0) scale(0.01290 -0.01290)"/>
</g>
<text transform="translate(592.06 177.75) scale(0.9852 1)" font-size="26.43">070</text>
<text transform="translate(592.76 202.75) scale(0.9852 1)" font-size="26.43">060</text>
<g transform="translate(336.38 169.95) scale(0.9761 1)">
<text font-size="26.29">  0</text>
<path d="M515,0 L515,1237 L197,1010 L197,1180 L530,1409 L696,1409 L696,0 Z" fill="#000" stroke="none" transform="translate(0.000 0) scale(0.01283 -0.01283)"/>
<path d="M515,0 L515,1237 L197,1010 L197,1180 L530,1409 L696,1409 L696,0 Z" fill="#000" stroke="none" transform="translate(14.619 0) scale(0.01283 -0.01283)"/>
</g>
<g transform="translate(240.36 224.95) scale(1.0133 1)">
<text font-size="25.57">0 0</text>
<path d="M515,0 L515,1237 L197,1010 L197,1180 L530,1409 L696,1409 L696,0 Z" fill="#000" stroke="none" transform="translate(14.222 0) scale(0.01249 -0.01249)"/>
</g>
<g transform="translate(284.18 253.25) scale(1.0073 1)">
<text font-size="25.43">0 5</text>
<path d="M515,0 L515,1237 L197,1010 L197,1180 L530,1409 L696,1409 L696,0 Z" fill="#000" stroke="none" transform="translate(14.142 0) scale(0.01242 -0.01242)"/>
</g>
<text transform="translate(533.56 369.25) scale(1.0390 1)" font-size="25.00">030</text>
<text transform="translate(497.18 459.15) scale(1.0462 1)" font-size="24.29">020</text>
<text transform="translate(208.26 464.45) scale(1.0182 1)" font-size="25.57">040</text>
<g transform="translate(209.59 543.75) scale(0.9816 1)">
<text font-size="26.00">  0</text>
<path d="M515,0 L515,1237 L197,1010 L197,1180 L530,1409 L696,1409 L696,0 Z" fill="#000" stroke="none" transform="translate(0.000 0) scale(0.01270 -0.01270)"/>
<path d="M515,0 L515,1237 L197,1010 L197,1180 L530,1409 L696,1409 L696,0 Z" fill="#000" stroke="none" transform="translate(14.460 0) scale(0.01270 -0.01270)"/>
</g>
<g transform="translate(501.68 711.85) scale(0.9983 1)">
<text font-size="24.29"> 00</text>
<path d="M515,0 L515,1237 L197,1010 L197,1180 L530,1409 L696,1409 L696,0 Z" fill="#000" stroke="none" transform="translate(0.000 0) scale(0.01186 -0.01186)"/>
</g>
<text transform="translate(1005.77 411.55) scale(1.0556 1)" font-size="24.43">050</text>
<text transform="translate(788.35 613.55) scale(0.9954 1)" font-size="26.29">090</text>
<text transform="translate(788.35 651.45) scale(1.0008 1)" font-size="26.14">080</text>
<g transform="translate(783.86 688.35) scale(1.0332 1)">
<text font-size="23.71"> 60</text>
<path d="M515,0 L515,1237 L197,1010 L197,1180 L530,1409 L696,1409 L696,0 Z" fill="#000" stroke="none" transform="translate(0.000 0) scale(0.01158 -0.01158)"/>
</g>
<g transform="translate(846.49 764.75) scale(1.0169 1)">
<text font-size="23.71"> 50</text>
<path d="M515,0 L515,1237 L197,1010 L197,1180 L530,1409 L696,1409 L696,0 Z" fill="#000" stroke="none" transform="translate(0.000 0) scale(0.01158 -0.01158)"/>
</g>
<g transform="translate(948.47 801.55) scale(1.0367 1)">
<text font-size="23.57"> 40</text>
<path d="M515,0 L515,1237 L197,1010 L197,1180 L530,1409 L696,1409 L696,0 Z" fill="#000" stroke="none" transform="translate(0.000 0) scale(0.01151 -0.01151)"/>
</g>
<text transform="translate(592.45 574.65) scale(0.8792 1)" font-size="19.13">Fig.No.</text>
<text transform="translate(592.18 598.65) scale(0.9343 1)" font-size="19.00">M223XX</text>
<text transform="translate(1152.14 598.35) scale(0.8617 1)" font-size="19.71">Fig.No.</text>
<text transform="translate(1152.08 621.95) scale(0.9136 1)" font-size="19.43">F230XX</text>
<text transform="translate(1163.64 798.65) scale(0.8600 1)" font-size="19.71">Fig.No.</text>
<text transform="translate(1163.57 822.35) scale(0.9127 1)" font-size="19.57">F230XX</text>
<g transform="translate(1174.37 891.95) scale(1.0397 1)">
<text font-size="15.14">3N840-097- 0</text>
<path d="M515,0 L515,1237 L197,1010 L197,1180 L530,1409 L696,1409 L696,0 Z" fill="#000" stroke="none" transform="translate(79.973 0) scale(0.00739 -0.00739)"/>
</g>
<path d="M486.7,146.7 L590,136.2" stroke-width="1"/>
<path d="M525,186.7 L588,169.8" stroke-width="1"/>
<path d="M510,201.7 L589.8,194.5" stroke-width="1"/>
<path d="M382.3,161.7 L415.8,173.5" stroke-width="1"/>
<path d="M265.5,231.3 L272,240.9" stroke-width="1"/>
<path d="M246.2,280.9 L272.8,316" stroke-width="1"/>
<path d="M308.9,258.6 L347,345" stroke-width="1"/>
<path d="M493.9,360.9 L528.9,359.9" stroke-width="1"/>
<path d="M447,453.4 L491.9,450.8" stroke-width="1"/>
<path d="M255.8,456 L357.4,476.3" stroke-width="1"/>
<path d="M254.3,535.9 L290.4,519.7" stroke-width="1"/>
<path d="M451,704.2 L500,704.2" stroke-width="1"/>
<path d="M941.1,412.7 L1000.6,404.2" stroke-width="1"/>
<path d="M837.1,604.1 L920,636" stroke-width="1"/>
<path d="M837.1,641.3 L922,671.5" stroke-width="1"/>
<path d="M827.7,679.9 L847.4,685.9" stroke-width="1"/>
<path d="M866.3,742.5 L886.1,707.4" stroke-width="1"/>
<path d="M970.6,778.5 L973.8,747.9" stroke-width="1"/>
<path d="M554,549.4 L588.8,603.6 L661.9,603.6" stroke-width="1"/>
<path d="M1122.3,594.1 L1150.2,627.7 L1219,627.7" stroke-width="1"/>
<path d="M1263.6,763.3 L1231.8,827.5 L1164.3,827.5" stroke-width="1"/>
<path d="M945.4,476.9 L1064.7,543.8" stroke-width="1"/>
</g></svg></body></html>
